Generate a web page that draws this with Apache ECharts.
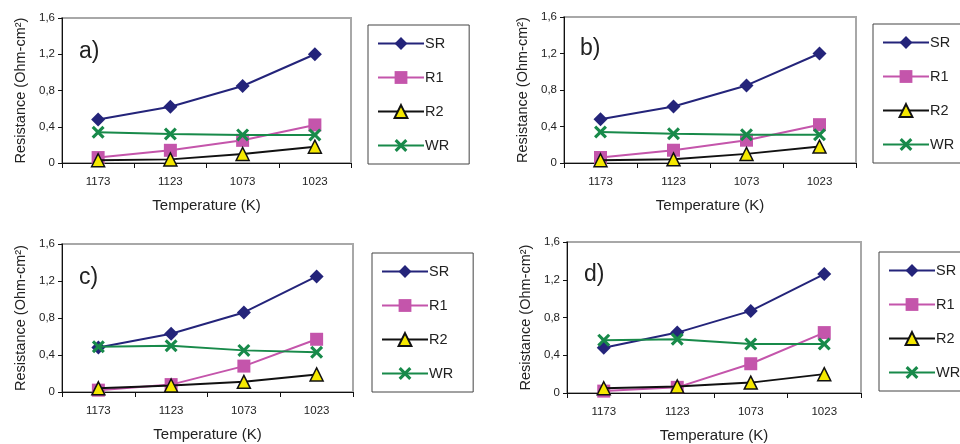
<!DOCTYPE html>
<html>
<head>
<meta charset="utf-8">
<script src="https://cdn.jsdelivr.net/npm/echarts@6/dist/echarts.min.js"></script>
<style>
  html, body { margin: 0; padding: 0; background: #fff; }
  #mychart { width: 960px; height: 444px; }
</style>
</head>
<body>
<div id="mychart"></div>
<script>
"use strict";
// data
const categories = ['1173', '1123', '1073', '1023'];
const seriesNames = ['SR', 'R1', 'R2', 'WR'];
const panelLabels = ['a)', 'b)', 'c)', 'd)'];
const yTicks = [0, 0.4, 0.8, 1.2, 1.6];

const srA = [0.48, 0.62, 0.85, 1.20];
const r1A = [0.06, 0.14, 0.25, 0.42];
const r2A = [0.03, 0.04, 0.10, 0.18];
const wrA = [0.34, 0.32, 0.31, 0.31];

const srB = [0.48, 0.62, 0.85, 1.20];
const r1B = [0.06, 0.14, 0.25, 0.42];
const r2B = [0.03, 0.04, 0.10, 0.18];
const wrB = [0.34, 0.32, 0.31, 0.31];

const srC = [0.48, 0.63, 0.86, 1.25];
const r1C = [0.02, 0.08, 0.28, 0.57];
const r2C = [0.04, 0.07, 0.11, 0.19];
const wrC = [0.49, 0.50, 0.45, 0.43];

const srD = [0.48, 0.64, 0.87, 1.26];
const r1D = [0.02, 0.06, 0.31, 0.64];
const r2D = [0.05, 0.07, 0.11, 0.20];
const wrD = [0.56, 0.57, 0.52, 0.52];

const panelData = [
    [srA, r1A, r2A, wrA],
    [srB, r1B, r2B, wrB],
    [srC, r1C, r2C, wrC],
    [srD, r1D, r2D, wrD]
];

const font = 'Liberation Sans, Arial, sans-serif';
const crossPath = 'path://M0,1.7 L1.7,0 L5,3.3 L8.3,0 L10,1.7 L6.7,5 L10,8.3 L8.3,10 L5,6.7 L1.7,10 L0,8.3 L3.3,5 Z';

const styles = {
    SR: { color: '#24247a', symbol: 'diamond', symbolSize: 14, itemStyle: { color: '#24247a' } },
    R1: { color: '#c455ab', symbol: 'rect', symbolSize: 13, itemStyle: { color: '#c455ab' } },
    R2: { color: '#111111', symbol: 'triangle', symbolSize: 13, itemStyle: { color: '#f5e800', borderColor: '#111', borderWidth: 1.5 } },
    WR: { color: '#188a4a', symbol: crossPath, symbolSize: 13, itemStyle: { color: '#188a4a' } }
};

// layout of the four panels (pixels)
const grids = [
    { left: 62, top: 18, width: 289, height: 145 },
    { left: 564, top: 17, width: 292, height: 146 },
    { left: 62, top: 244, width: 291, height: 148 },
    { left: 567, top: 242, width: 294, height: 151 }
];
const legendPos = [
    { left: 368, top: 25 },
    { left: 873, top: 24 },
    { left: 372, top: 253 },
    { left: 879, top: 252 }
];
const labelPos = [
    { left: 79, top: 40 },
    { left: 580, top: 37 },
    { left: 79, top: 266 },
    { left: 584, top: 263 }
];

function fmt(v) {
    if (v === 0) {
        return '0';
    }
    return v.toFixed(1).replace('.', ',');
}

const option = {
    backgroundColor: '#fff',
    animation: false,
    textStyle: { fontFamily: font },
    title: panelLabels.map((t, i) => ({
        text: t,
        left: labelPos[i].left,
        top: labelPos[i].top,
        padding: 0,
        textStyle: { fontFamily: font, fontSize: 23, fontWeight: 'normal', color: '#222' }
    })),
    legend: legendPos.map((p) => ({
        data: seriesNames,
        orient: 'vertical',
        left: p.left,
        top: p.top,
        itemWidth: 46,
        itemHeight: 16,
        itemGap: 19,
        padding: [11, 20, 11, 9],
        borderColor: '#444',
        borderWidth: 1,
        textStyle: { fontFamily: font, fontSize: 14.5, color: '#222', padding: [0, 0, 0, -4] },
        selectedMode: false
    })),
    grid: grids.map((g) => ({
        left: g.left,
        top: g.top,
        width: g.width,
        height: g.height,
        show: true,
        borderColor: '#a8a8a8',
        borderWidth: 2,
        containLabel: false
    })),
    xAxis: grids.map((g, i) => ({
        type: 'category',
        gridIndex: i,
        data: categories,
        boundaryGap: true,
        axisLine: { lineStyle: { color: '#111', width: 1 } },
        axisTick: { show: true, length: 5, alignWithLabel: false, lineStyle: { color: '#111' } },
        axisLabel: { margin: 13, fontSize: 11.5, color: '#222', fontFamily: font },
        splitLine: { show: false },
        name: 'Temperature (K)',
        nameLocation: 'middle',
        nameGap: 35,
        nameTextStyle: { fontSize: 15, color: '#222', fontFamily: font }
    })),
    yAxis: grids.map((g, i) => ({
        type: 'value',
        gridIndex: i,
        min: yTicks[0],
        max: yTicks[yTicks.length - 1],
        interval: 0.4,
        axisLine: { show: true, lineStyle: { color: '#111', width: 1 } },
        axisTick: { show: true, length: 4, lineStyle: { color: '#111' } },
        axisLabel: { margin: 7, fontSize: 11.5, color: '#222', fontFamily: font, formatter: fmt },
        splitLine: { show: false },
        name: 'Resistance (Ohm-cm²)',
        nameLocation: 'middle',
        nameGap: 34,
        nameTextStyle: { fontSize: 14.5, color: '#222', fontFamily: font }
    })),
    series: []
};

panelData.forEach((rows, i) => {
    rows.forEach((vals, k) => {
        const name = seriesNames[k];
        const st = styles[name];
        option.series.push({
            type: 'line',
            name: name,
            xAxisIndex: i,
            yAxisIndex: i,
            data: vals,
            symbol: st.symbol,
            symbolSize: st.symbolSize,
            showAllSymbol: true,
            lineStyle: { color: st.color, width: 2 },
            itemStyle: Object.assign({ opacity: 1 }, st.itemStyle),
            emphasis: { disabled: true },
            z: 2 + k
        });
    });
});

const myChart = echarts.init(document.getElementById('mychart'));
myChart.setOption(option);
</script>
</body>
</html>
